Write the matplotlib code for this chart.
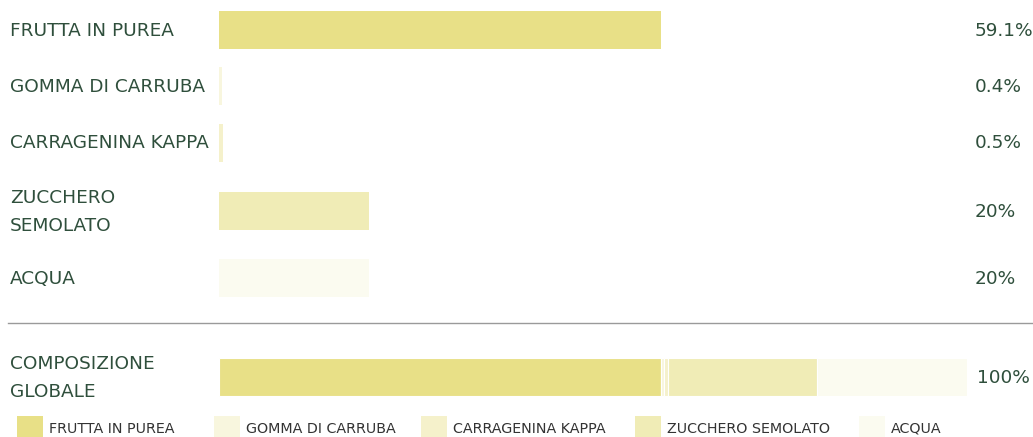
import matplotlib
matplotlib.use("Agg")
import matplotlib.pyplot as plt
from matplotlib.patches import Rectangle

categories = ["FRUTTA IN PUREA", "GOMMA DI CARRUBA", "CARRAGENINA KAPPA", "ZUCCHERO\nSEMOLATO", "ACQUA"]
legend_labels = ["FRUTTA IN PUREA", "GOMMA DI CARRUBA", "CARRAGENINA KAPPA", "ZUCCHERO SEMOLATO", "ACQUA"]
values = [59.1, 0.4, 0.5, 20, 20]
value_labels = ["59.1%", "0.4%", "0.5%", "20%", "20%"]
total_label = "100%"
total_title = "COMPOSIZIONE\nGLOBALE"
colors = ["#e8e087", "#f8f6de", "#f5f1cb", "#f0ecb6", "#fbfbf0"]

W, H = 1033, 437
fig = plt.figure(figsize=(W / 100, H / 100), dpi=100)
fig.patch.set_facecolor("white")

# layout (pixel positions)
x0_px, x100_px = 219, 967
row_y = [29.5, 86, 142.5, 211, 278]
bar_h = 38
total_y = 377
label_color = "#2f4f3c"

ax = fig.add_axes([x0_px / W, 0, (x100_px - x0_px) / W, 1])
ax.set_xlim(0, 100)
ax.set_ylim(H, 0)
ax.axis("off")

for y, v, c in zip(row_y, values, colors):
    ax.barh(y, v, height=bar_h, color=c, left=0, linewidth=0)

left = 0
for v, c in zip(values, colors):
    ax.barh(total_y, v, height=bar_h, left=left, color=c, edgecolor="white", linewidth=0.8)
    left += v

fs = 13.3
for y, cat, lab in zip(row_y, categories, value_labels):
    fig.text(10 / W, 1 - (y + 1) / H, cat, fontsize=fs, color=label_color, va="center", ha="left", linespacing=1.7)
    fig.text(975 / W, 1 - (y + 1) / H, lab, fontsize=fs, color=label_color, va="center", ha="left")

fig.text(10 / W, 1 - (total_y + 1) / H, total_title, fontsize=fs, color=label_color, va="center", ha="left", linespacing=1.7)
fig.text(977 / W, 1 - (total_y + 1) / H, total_label, fontsize=fs, color=label_color, va="center", ha="left")

# separator
fig.add_artist(plt.Line2D([8 / W, 1032 / W], [1 - 323 / H, 1 - 323 / H], color="#9a9a9a", linewidth=1))

# legend
leg_x = [17, 214, 421, 635, 859]
leg_y = 429
for lx, lab, c in zip(leg_x, legend_labels, colors):
    fig.add_artist(Rectangle((lx / W, 1 - 437 / H), 26 / W, 21 / H, facecolor=c, edgecolor="none",
                             transform=fig.transFigure))
    fig.text((lx + 32) / W, 1 - leg_y / H, lab, fontsize=10.3, color="#333333", va="center", ha="left")

fig.savefig("out.png", dpi=100, facecolor="white")
